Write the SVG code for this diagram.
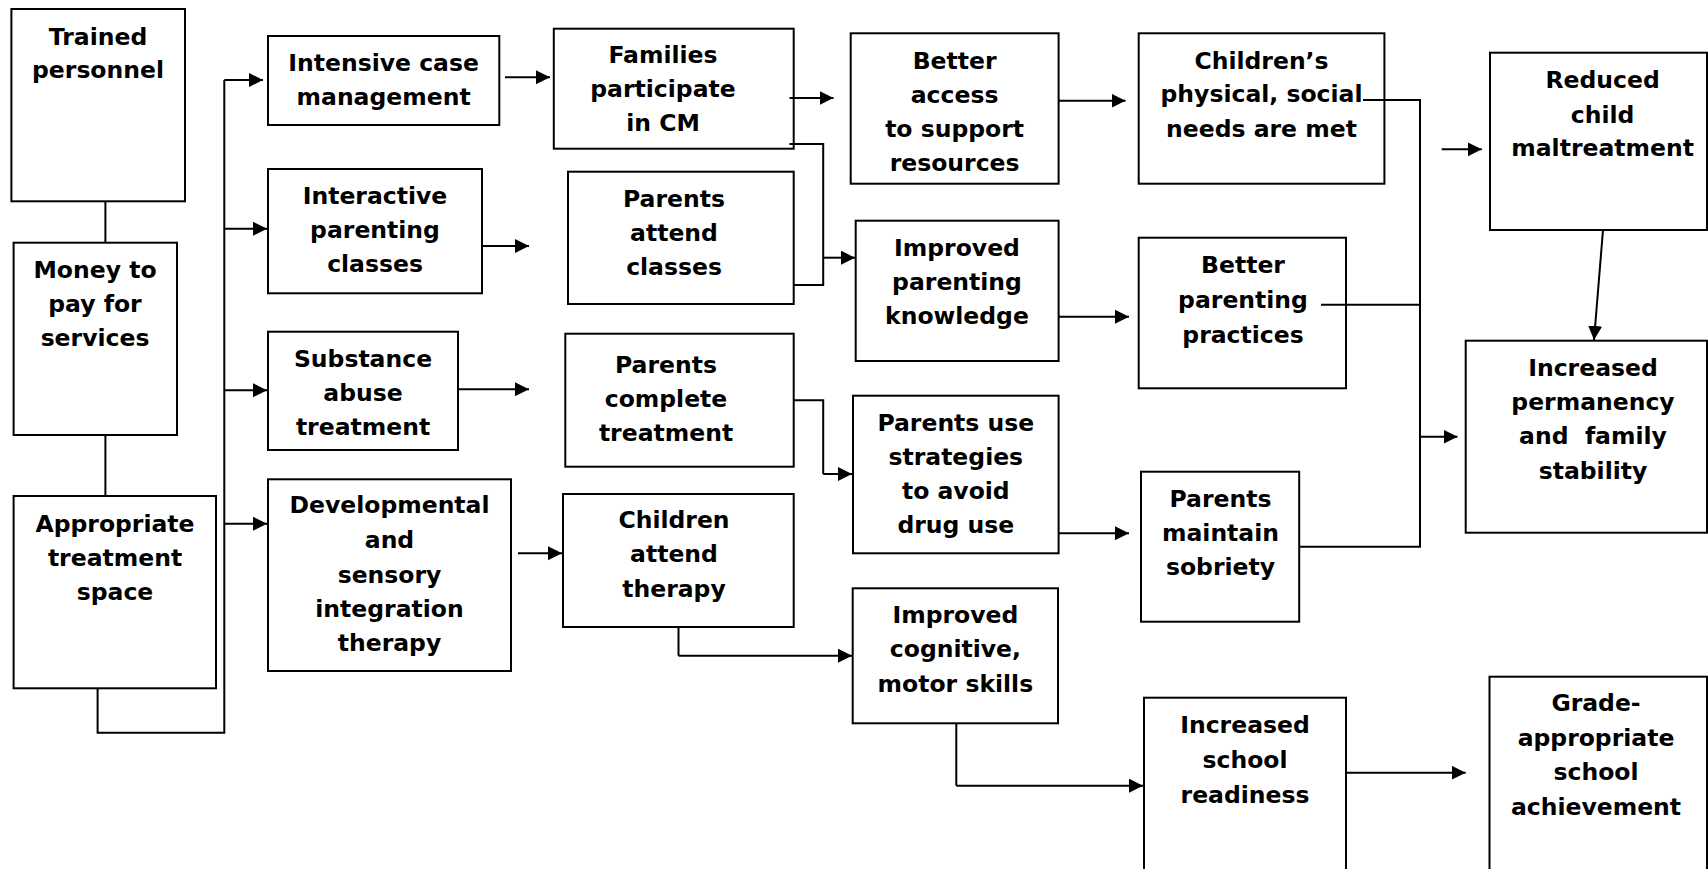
<svg xmlns="http://www.w3.org/2000/svg" width="1708" height="869" viewBox="0 0 1708 869">
<style>
.box{fill:#fff;stroke:#000;stroke-width:2}
.t{font-family:"DejaVu Sans",Verdana,sans-serif;font-weight:bold;font-size:23.5px;text-anchor:middle;fill:#000}
.ln{fill:none;stroke:#000;stroke-width:2}
.ar{fill:none;stroke:#000;stroke-width:2;marker-end:url(#ah)}
</style>
<defs>
<marker id="ah" markerUnits="userSpaceOnUse" markerWidth="15" markerHeight="15" refX="14" refY="7" orient="auto">
<path d="M0,0 L14,7 L0,14 z" fill="#000"/>
</marker>
</defs>
<rect width="1708" height="869" fill="#fff"/>
<g id="n-trained"><rect class="box" x="11.4" y="9" width="173.6" height="192.3"/><text class="t" x="98" y="45">Trained</text><text class="t" x="98" y="78">personnel</text></g>
<g id="n-money"><rect class="box" x="13.6" y="242.7" width="163.4" height="192.3"/><text class="t" x="95" y="278">Money to</text><text class="t" x="95" y="312">pay for</text><text class="t" x="95" y="346">services</text></g>
<g id="n-space"><rect class="box" x="13.6" y="496" width="202.4" height="192.3"/><text class="t" x="115" y="531.7">Appropriate</text><text class="t" x="115" y="565.7">treatment</text><text class="t" x="115" y="600">space</text></g>
<g id="n-icm"><rect class="box" x="268" y="36" width="231.3" height="89"/><text class="t" x="383.6" y="71">Intensive case</text><text class="t" x="383.6" y="105">management</text></g>
<g id="n-ipc"><rect class="box" x="268" y="169" width="214" height="124.3"/><text class="t" x="375" y="204">Interactive</text><text class="t" x="375" y="237.5">parenting</text><text class="t" x="375" y="271.5">classes</text></g>
<g id="n-sat"><rect class="box" x="268" y="331.7" width="190" height="118.3"/><text class="t" x="363" y="367.3">Substance</text><text class="t" x="363" y="400.7">abuse</text><text class="t" x="363" y="435">treatment</text></g>
<g id="n-dev"><rect class="box" x="268" y="479.3" width="243" height="191.7"/><text class="t" x="389.5" y="513.3">Developmental</text><text class="t" x="389.5" y="548.3">and</text><text class="t" x="389.5" y="582.7">sensory</text><text class="t" x="389.5" y="617">integration</text><text class="t" x="389.5" y="650.7">therapy</text></g>
<g id="n-fam"><rect class="box" x="553.8" y="28.7" width="239.9" height="120"/><text class="t" x="663" y="63.3">Families</text><text class="t" x="663" y="96.7">participate</text><text class="t" x="663" y="131">in CM</text></g>
<g id="n-pac"><rect class="box" x="568" y="171.7" width="225.7" height="132.3"/><text class="t" x="674" y="206.7">Parents</text><text class="t" x="674" y="240.7">attend</text><text class="t" x="674" y="275">classes</text></g>
<g id="n-pct"><rect class="box" x="565.3" y="333.7" width="228.4" height="133"/><text class="t" x="666" y="373">Parents</text><text class="t" x="666" y="407">complete</text><text class="t" x="666" y="441">treatment</text></g>
<g id="n-cat"><rect class="box" x="563" y="494" width="230.7" height="133"/><text class="t" x="674" y="528.3">Children</text><text class="t" x="674" y="562.3">attend</text><text class="t" x="674" y="596.5">therapy</text></g>
<g id="n-bas"><rect class="box" x="850.7" y="33.3" width="207.9" height="150.4"/><text class="t" x="954.6" y="69.3">Better</text><text class="t" x="954.6" y="102.7">access</text><text class="t" x="954.6" y="137.3">to support</text><text class="t" x="954.6" y="171">resources</text></g>
<g id="n-ipk"><rect class="box" x="855.7" y="220.7" width="202.9" height="140.3"/><text class="t" x="957" y="256">Improved</text><text class="t" x="957" y="290">parenting</text><text class="t" x="957" y="324">knowledge</text></g>
<g id="n-pus"><rect class="box" x="853" y="395.7" width="205.6" height="157.6"/><text class="t" x="955.8" y="431">Parents use</text><text class="t" x="955.8" y="465">strategies</text><text class="t" x="955.8" y="499.3">to avoid</text><text class="t" x="955.8" y="533.3">drug use</text></g>
<g id="n-icm2"><rect class="box" x="852.7" y="588.3" width="205.3" height="135"/><text class="t" x="955.4" y="623.3">Improved</text><text class="t" x="955.4" y="657.3">cognitive,</text><text class="t" x="955.4" y="691.5">motor skills</text></g>
<g id="n-cpn"><rect class="box" x="1138.7" y="33.3" width="245.7" height="150.4"/><text class="t" x="1261.5" y="69.3">Children’s</text><text class="t" x="1261.5" y="101.7">physical, social</text><text class="t" x="1261.5" y="136.7">needs are met</text></g>
<g id="n-bpp"><rect class="box" x="1138.7" y="237.7" width="207.3" height="150.6"/><text class="t" x="1243" y="273.3">Better</text><text class="t" x="1243" y="308">parenting</text><text class="t" x="1243" y="343.3">practices</text></g>
<g id="n-pms"><rect class="box" x="1141" y="471.7" width="158.2" height="150"/><text class="t" x="1220.5" y="506.7">Parents</text><text class="t" x="1220.5" y="540.7">maintain</text><text class="t" x="1220.5" y="575">sobriety</text></g>
<g id="n-isr"><rect class="box" x="1144" y="697.7" width="202" height="180"/><text class="t" x="1245" y="733.3">Increased</text><text class="t" x="1245" y="768.3">school</text><text class="t" x="1245" y="803.3">readiness</text></g>
<g id="n-rcm"><rect class="box" x="1490" y="52.7" width="217" height="177.3"/><text class="t" x="1602.6" y="88.3">Reduced</text><text class="t" x="1602.6" y="122.7">child</text><text class="t" x="1602.6" y="156">maltreatment</text></g>
<g id="n-ipf"><rect class="box" x="1465.7" y="340.7" width="241.3" height="192"/><text class="t" x="1593" y="376">Increased</text><text class="t" x="1593" y="410">permanency</text><text class="t" x="1593" y="444" xml:space="preserve">and  family</text><text class="t" x="1593" y="479">stability</text></g>
<g id="n-gas"><rect class="box" x="1489.5" y="676.7" width="217.5" height="200"/><text class="t" x="1596" y="711">Grade-</text><text class="t" x="1596" y="745.7">appropriate</text><text class="t" x="1596" y="780">school</text><text class="t" x="1596" y="815">achievement</text></g>
<g id="connectors">
<path class="ln" d="M105.4,201 V243"/>
<path class="ln" d="M105.4,435 V496"/>
<path class="ln" d="M97.6,688 V732.7 H224.3 V80"/>
<path class="ar" d="M224.3,80 H263"/>
<path class="ar" d="M224.3,228.7 H267"/>
<path class="ar" d="M224.3,390.3 H267"/>
<path class="ar" d="M224.3,523.7 H267"/>
<path class="ar" d="M505,77.3 H550"/>
<path class="ar" d="M482,246 H529"/>
<path class="ar" d="M458,389.3 H529"/>
<path class="ar" d="M518,553.3 H562"/>
<path class="ar" d="M789.5,98 H833.5"/>
<path class="ln" d="M789.5,144 H823.2 V285 H793.7"/>
<path class="ar" d="M823.2,257.7 H855"/>
<path class="ln" d="M793.7,400.3 H823.2 V474"/>
<path class="ar" d="M823.2,474 H852"/>
<path class="ln" d="M678.5,627 V655.7"/>
<path class="ar" d="M678.5,655.7 H852"/>
<path class="ar" d="M1058.6,100.7 H1125.5"/>
<path class="ar" d="M1058.6,316.7 H1129"/>
<path class="ar" d="M1058.6,533.3 H1129"/>
<path class="ln" d="M956.3,723.3 V785.7"/>
<path class="ar" d="M956.3,785.7 H1143"/>
<path class="ar" d="M1346,772.7 H1465.7"/>
<path class="ln" d="M1363,100 H1420 V546.7 H1299"/>
<path class="ln" d="M1321,304.7 H1420"/>
<path class="ar" d="M1420,436.7 H1457.5"/>
<path class="ar" d="M1441.7,149.3 H1481.8"/>
<path class="ar" d="M1603,230 L1594,340"/>
</g>
</svg>
